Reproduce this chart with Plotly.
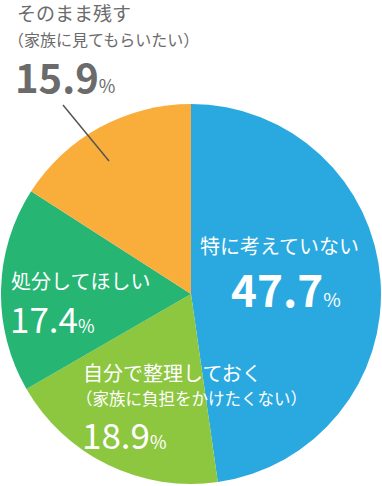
import plotly.graph_objects as go

labels = ["特に考えていない", "自分で整理しておく（家族に負担をかけたくない）", "処分してほしい", "そのまま残す（家族に見てもらいたい）"]
values = [47.7, 18.9, 17.4, 15.9]
colors = ["#2aa9e0", "#8dc63f", "#26b573", "#f9ae3c"]

W, H = 382, 486
FONT = "Noto Sans CJK JP"

fig = go.Figure(go.Pie(
    labels=labels, values=values, sort=False, direction="clockwise", rotation=0,
    marker=dict(colors=colors, line=dict(width=0)), textinfo="none", hoverinfo="none",
    domain=dict(x=[0, 1], y=[(H - 484) / H, (H - 104) / H]), showlegend=False,
))

def px(x, y):
    return x / W, 1 - y / H

anns = []
def add(text, x, y, size, color, weight="normal"):
    ax, ay = px(x, y)
    anns.append(dict(text=text, x=ax, y=ay, xref="paper", yref="paper", xanchor="left", yanchor="middle",
                     borderpad=0, showarrow=False,
                     font=dict(family=FONT, size=size, color=color, weight=weight)))

gray = "#6b6b6b"
white = "#ffffff"
pct = "<span style='font-size:{}px;font-weight:normal'>%</span>"

add("そのまま残す", 16, 12.5, 19, gray)
add("（家族に見てもらいたい）", 7, 38.5, 16, gray)
add(f"{values[3]}" + pct.format(18), 14, 75.5, 40, gray, "bold")

add("特に考えていない", 199, 245, 20, white)
add(f"{values[0]}" + pct.format(19), 230, 288, 44, white, "bold")

add("処分してほしい", 10, 280, 20, white)
add(f"{values[2]}" + pct.format(18), 9, 317, 35, white, "normal")

add("自分で整理しておく", 82, 372, 20, white)
add("（家族に負担をかけたくない）", 75, 398, 16.5, white)
add(f"{values[1]}" + pct.format(18), 81, 433, 35, white, "normal")

x0, y0 = px(63, 105)
x1, y1 = px(109, 161)
fig.update_layout(
    width=W, height=H, margin=dict(l=0, r=0, t=0, b=0),
    paper_bgcolor="white", plot_bgcolor="white",
    annotations=anns,
    shapes=[dict(type="line", xref="paper", yref="paper", x0=x0, y0=y0, x1=x1, y1=y1,
                 line=dict(color="#555555", width=1.5))],
)
fig.write_html("out.html", config={"displayModeBar": False},
               post_script="document.body.style.margin='0';document.body.style.overflow='hidden';")
